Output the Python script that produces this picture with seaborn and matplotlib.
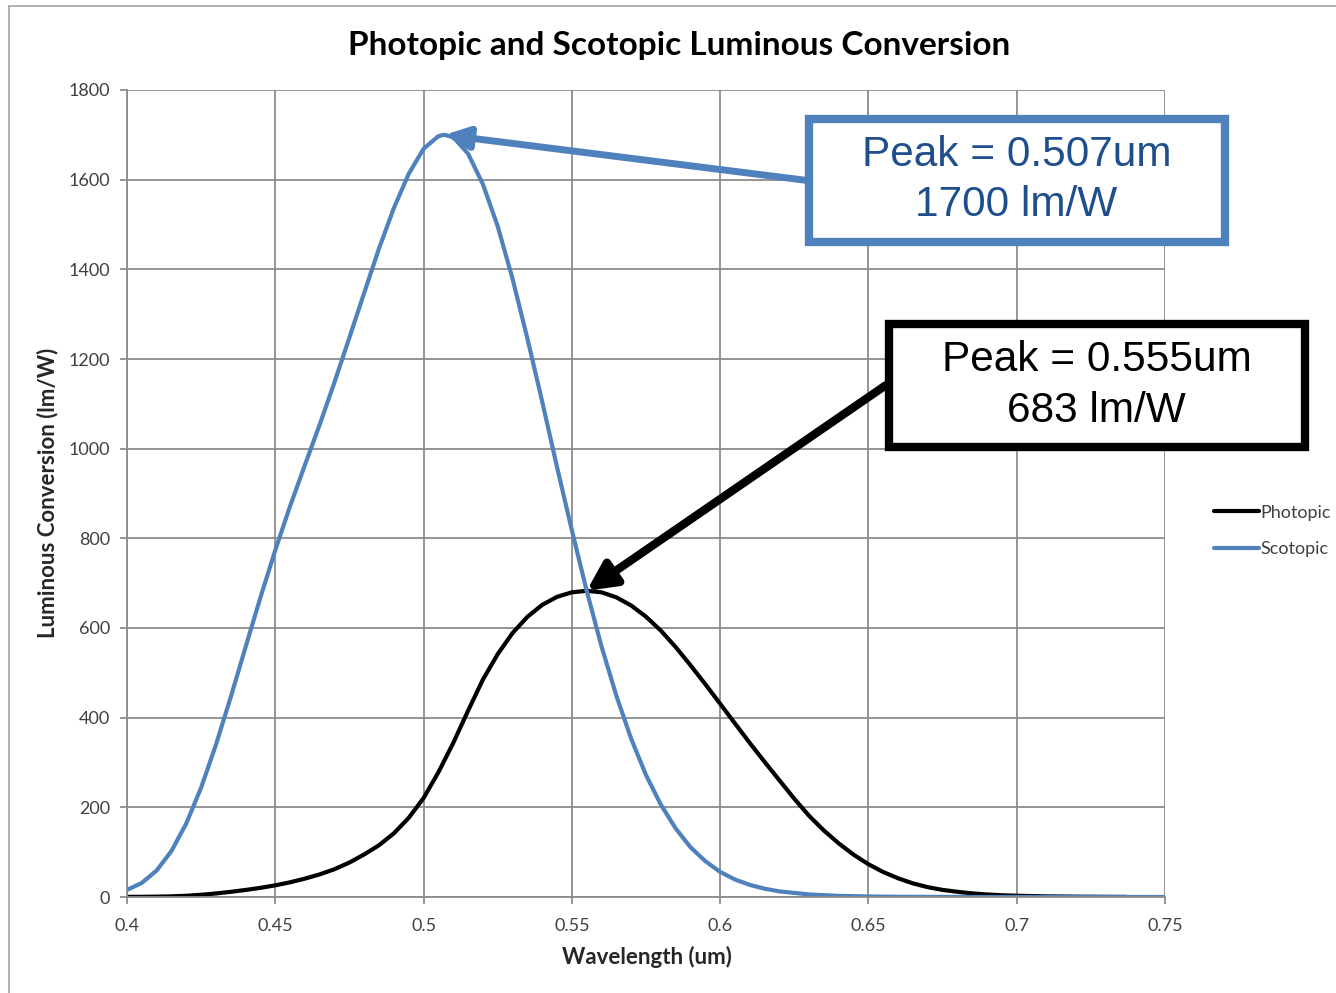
import numpy as np
import pandas as pd
import matplotlib
matplotlib.use("Agg")
import matplotlib.pyplot as plt
from matplotlib.lines import Line2D
from matplotlib.patches import Rectangle
import seaborn as sns

# ---- data ----
photopic_wl = [0.400, 0.405, 0.410, 0.415, 0.420, 0.425, 0.430, 0.435, 0.440, 0.445,
               0.450, 0.455, 0.460, 0.465, 0.470, 0.475, 0.480, 0.485, 0.490, 0.495,
               0.500, 0.505, 0.510, 0.515, 0.520, 0.525, 0.530, 0.535, 0.540, 0.545,
               0.550, 0.555, 0.560, 0.565, 0.570, 0.575, 0.580, 0.585, 0.590, 0.595,
               0.600, 0.605, 0.610, 0.615, 0.620, 0.625, 0.630, 0.635, 0.640, 0.645,
               0.650, 0.655, 0.660, 0.665, 0.670, 0.675, 0.680, 0.685, 0.690, 0.695,
               0.700, 0.710, 0.720, 0.730, 0.737]
photopic_val = [0.3, 0.4, 0.8, 1.5, 2.7, 5.0, 7.9, 11.5, 15.7, 20.4,
                26.0, 32.8, 41.0, 50.5, 62.1, 76.9, 95.0, 115.6, 142.1, 176.6,
                220.6, 278.2, 343.5, 415.4, 484.9, 541.8, 588.7, 624.8, 651.6, 669.5,
                679.6, 683.0, 679.6, 668.4, 650.2, 625.2, 594.2, 557.5, 517.0, 474.6,
                431.0, 387.1, 343.5, 301.3, 260.2, 219.2, 181.0, 148.2, 119.5, 94.4,
                73.1, 55.7, 41.7, 30.4, 21.9, 15.8, 11.6, 8.1, 5.6, 3.9,
                2.8, 1.4, 0.7, 0.4, 0.2]

scotopic_wl = [0.400, 0.405, 0.410, 0.415, 0.420, 0.425, 0.430, 0.435, 0.440, 0.445,
               0.450, 0.455, 0.460, 0.465, 0.470, 0.475, 0.480, 0.485, 0.490, 0.495,
               0.500, 0.505, 0.507, 0.510, 0.515, 0.520, 0.525, 0.530, 0.535, 0.540,
               0.545, 0.550, 0.555, 0.560, 0.565, 0.570, 0.575, 0.580, 0.585, 0.590,
               0.595, 0.600, 0.605, 0.610, 0.615, 0.620, 0.630, 0.640, 0.650, 0.660,
               0.670, 0.680, 0.690, 0.700, 0.720, 0.750]
scotopic_val = [15.8, 31.5, 59.2, 102.7, 164.2, 244.1, 339.7, 446.3, 557.8, 668.3,
                773.5, 872.1, 963.9, 1054.0, 1149.0, 1248.0, 1348.0, 1447.0, 1537.0, 1613.0,
                1669.0, 1697.0, 1700.0, 1695.0, 1658.0, 1590.0, 1496.0, 1379.0, 1246.0, 1105.0,
                959.0, 818.0, 683.0, 559.0, 449.0, 353.0, 272.0, 206.0, 153.0, 111.0,
                80.0, 56.0, 39.0, 27.0, 18.5, 12.5, 5.7, 2.5, 1.2, 0.5,
                0.3, 0.1, 0.1, 0.0, 0.0, 0.0]

series_names = ["Photopic", "Scotopic"]
x_ticks = [0.4, 0.45, 0.5, 0.55, 0.6, 0.65, 0.7, 0.75]
x_tick_labels = ["0.4", "0.45", "0.5", "0.55", "0.6", "0.65", "0.7", "0.75"]
y_ticks = [0, 200, 400, 600, 800, 1000, 1200, 1400, 1600, 1800]

title = "Photopic and Scotopic Luminous Conversion"
x_label = "Wavelength (um)"
y_label = "Luminous Conversion (lm/W)"
scot_peak = (0.507, 1700)
phot_peak = (0.555, 683)
scot_note = "Peak = 0.507um\n1700 lm/W"
phot_note = "Peak = 0.555um\n683 lm/W"

df = pd.concat([
    pd.DataFrame({"wl": photopic_wl, "val": photopic_val, "series": "Photopic"}),
    pd.DataFrame({"wl": scotopic_wl, "val": scotopic_val, "series": "Scotopic"}),
], ignore_index=True)

# ---- style ----
sns.set_theme(style="whitegrid")
plt.rcParams["font.family"] = ["Lato", "DejaVu Sans"]

BLUE = "#4F81BD"
TEXT_BLUE = "#1F4E8C"
GRID = "#8C8C8C"
TICK = "#404040"

fig = plt.figure(figsize=(13.36, 9.93), dpi=100)
fig.patch.set_facecolor("white")
ax = fig.add_axes([127 / 1336, 1 - 897 / 993, (1165 - 127) / 1336, (897 - 90) / 993])
ax.set_facecolor("white")

sns.lineplot(data=df, x="wl", y="val", hue="series", hue_order=series_names,
             palette={"Photopic": "black", "Scotopic": BLUE},
             linewidth=3.0, estimator=None, sort=False, ax=ax)

ax.set_xlim(0.4, 0.75)
ax.set_ylim(0, 1800)
ax.set_xticks(x_ticks)
ax.set_xticklabels(x_tick_labels)
ax.set_yticks(y_ticks)
ax.set_yticklabels([str(v) for v in y_ticks])

ax.grid(True, color=GRID, linewidth=1.3)
for side in ["top", "right"]:
    ax.spines[side].set_visible(False)
for side in ["left", "bottom"]:
    ax.spines[side].set_visible(True)
    ax.spines[side].set_color(GRID)
    ax.spines[side].set_linewidth(1.3)
ax.tick_params(axis="both", which="major", length=5, width=1.3, color=GRID,
               labelsize=13, labelcolor=TICK, bottom=True, left=True)
ax.tick_params(axis="y", pad=7)
ax.tick_params(axis="x", pad=10)

ax.set_xlabel("")
ax.set_ylabel("")
fig.text(647 / 1336, 1 - 957 / 993, x_label, ha="center", va="center",
         fontsize=16, fontweight="bold", color="#262626")
fig.text(48 / 1336, 1 - 493 / 993, y_label, ha="center", va="center",
         rotation=90, fontsize=16, fontweight="bold", color="#262626")
fig.text(679 / 1336, 1 - 46 / 993, title, ha="center", va="center",
         fontsize=24, fontweight="bold", color="black")

# legend
handles, labels = ax.get_legend_handles_labels()
if ax.legend_:
    ax.legend_.remove()
leg = fig.legend(handles, labels, loc="center left",
                 bbox_to_anchor=(1207 / 1336, 1 - 531 / 993),
                 frameon=False, fontsize=13, handlelength=2.5, handletextpad=0.05,
                 labelspacing=1.15, borderaxespad=0)
for t in leg.get_texts():
    t.set_color(TICK)

# chart area border (left and top visible)
fig.add_artist(Line2D([9 / 1336, 9 / 1336], [0, 1 - 6 / 993], transform=fig.transFigure,
                      color="#A6A6A6", linewidth=1.2))
fig.add_artist(Line2D([9 / 1336, 1], [1 - 6 / 993, 1 - 6 / 993], transform=fig.transFigure,
                      color="#A6A6A6", linewidth=1.2))

# annotation boxes (axes-fraction coordinates)
def px_to_axes(px, py):
    return (px - 127) / 1038, (897 - py) / 807

# blue box
bx0, by1 = px_to_axes(808.5, 119)
bx1, by0 = px_to_axes(1224.5, 241.5)
ax.add_patch(Rectangle((bx0, by0), bx1 - bx0, by1 - by0, transform=ax.transAxes,
                       fill=True, facecolor="white", edgecolor=BLUE, linewidth=6,
                       clip_on=False, zorder=5))
ax.text((bx0 + bx1) / 2, (by0 + by1) / 2, scot_note, transform=ax.transAxes,
        ha="center", va="center", fontsize=30.5, color=TEXT_BLUE,
        family=["Liberation Sans", "DejaVu Sans"], linespacing=1.33, zorder=6)
ax.annotate("", xy=scot_peak, xycoords="data",
            xytext=(bx0 - 0.003, (by0 + by1) / 2), textcoords="axes fraction",
            arrowprops=dict(arrowstyle="-|>,head_length=1.2,head_width=0.55",
                            color=BLUE, lw=5, shrinkA=0, shrinkB=0),
            zorder=6, annotation_clip=False)

# black box
kx0, ky1 = px_to_axes(888.5, 324)
kx1, ky0 = px_to_axes(1304.5, 447)
ax.add_patch(Rectangle((kx0, ky0), kx1 - kx0, ky1 - ky0, transform=ax.transAxes,
                       fill=True, facecolor="white", edgecolor="black", linewidth=6,
                       clip_on=False, zorder=5))
ax.text((kx0 + kx1) / 2, (ky0 + ky1) / 2, phot_note, transform=ax.transAxes,
        ha="center", va="center", fontsize=30.5, color="black",
        family=["Liberation Sans", "DejaVu Sans"], linespacing=1.33, zorder=6)
ax.annotate("", xy=phot_peak, xycoords="data",
            xytext=(kx0 - 0.003, (ky0 + ky1) / 2), textcoords="axes fraction",
            arrowprops=dict(arrowstyle="-|>,head_length=1.4,head_width=0.7",
                            color="black", lw=6, shrinkA=0, shrinkB=0),
            zorder=6, annotation_clip=False)

fig.savefig("out.png", dpi=100, facecolor="white")
